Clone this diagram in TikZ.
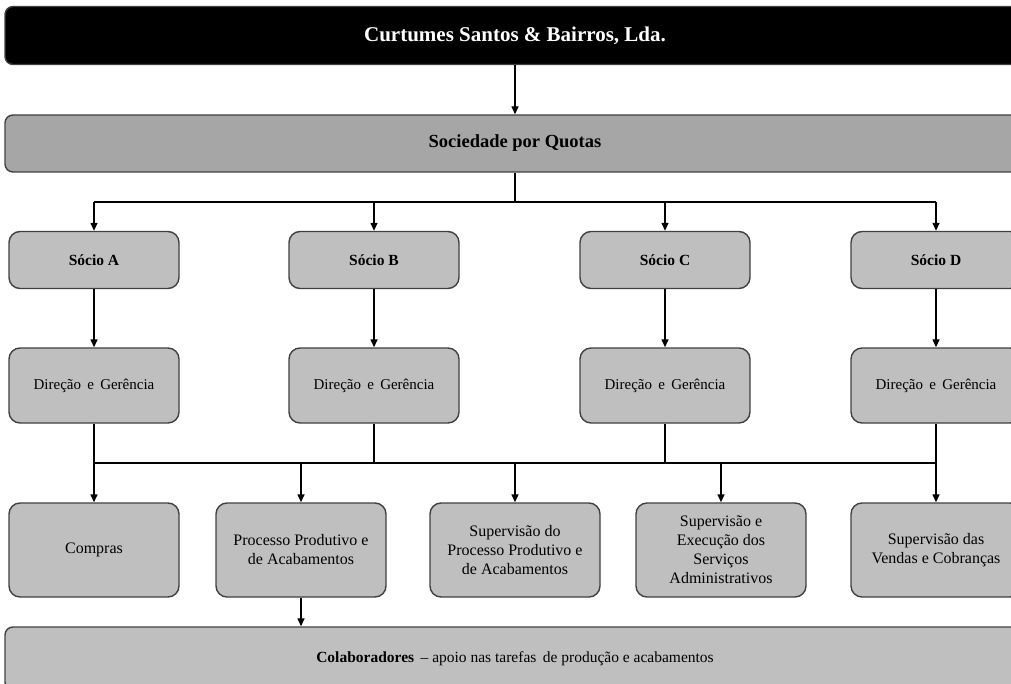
\documentclass[tikz,border=0pt]{standalone}
\usepackage{fontspec}
\setmainfont{Liberation Serif}
\usetikzlibrary{arrows.meta}

\definecolor{boxgray}{RGB}{191,191,191}
\definecolor{quotagray}{RGB}{166,166,166}
\definecolor{edgegray}{RGB}{64,64,64}

\tikzset{every picture/.style={line width=1.4pt}}
\tikzset{
  orgbox/.style={draw=edgegray, fill=boxgray, rounded corners=11pt, align=center,
    minimum width=170pt, inner sep=2pt, font=\fontsize{16}{19}\selectfont},
  wide/.style={draw=edgegray, rounded corners=8pt, minimum width=1020pt, align=center},
  arr/.style={-{Triangle[length=8pt,width=7pt]}, black}
}

\begin{document}
\begin{tikzpicture}[x=1pt,y=1pt,yscale=-1,xscale=1]
		\useasboundingbox (0,0) rectangle (1011,684);
		\clip (0,0) rectangle (1011,684);

		% Text Node
		\node [wide, fill=black, text=white, minimum height=58pt, font=\fontsize{21}{24}\selectfont\bfseries] (firma) at (515,35.5) {Curtumes Santos \& Bairros, Lda.};
		% Text Node
		\node [wide, fill=quotagray, minimum height=57pt, font=\fontsize{18.5}{22}\selectfont\bfseries] (quotas) at (515,143.5) {Sociedade por Quotas};

		% Text Node
		\node [orgbox, minimum height=57pt, font=\fontsize{15.5}{19}\selectfont\bfseries] (socioA) at (94,260) {Sócio A};
		\node [orgbox, minimum height=57pt, font=\fontsize{15.5}{19}\selectfont\bfseries] (socioB) at (374,260) {Sócio B};
		\node [orgbox, minimum height=57pt, font=\fontsize{15.5}{19}\selectfont\bfseries] (socioC) at (665,260) {Sócio C};
		\node [orgbox, minimum height=57pt, font=\fontsize{15.5}{19}\selectfont\bfseries] (socioD) at (936,260) {Sócio D};

		% Text Node
		\node [orgbox, minimum height=75pt, font=\fontsize{15}{19}\selectfont] (direcaoA) at (94,385.5) {Direção\, e\, Gerência};
		\node [orgbox, minimum height=75pt, font=\fontsize{15}{19}\selectfont] (direcaoB) at (374,385.5) {Direção\, e\, Gerência};
		\node [orgbox, minimum height=75pt, font=\fontsize{15}{19}\selectfont] (direcaoC) at (665,385.5) {Direção\, e\, Gerência};
		\node [orgbox, minimum height=75pt, font=\fontsize{15}{19}\selectfont] (direcaoD) at (936,385.5) {Direção\, e\, Gerência};

		% Text Node
		\node [orgbox, minimum height=94pt] (compras) at (94,550) {Compras};
		\node [orgbox, minimum height=94pt] (processo) at (301,550) {Processo Produtivo e\\de Acabamentos};
		\node [orgbox, minimum height=94pt] (supProcesso) at (515,550) {Supervisão do\\Processo Produtivo e\\de Acabamentos};
		\node [orgbox, minimum height=94pt] (supServicos) at (721,550) {Supervisão e\\Execução dos\\Serviços\\Administrativos};
		\node [orgbox, minimum height=94pt] (supVendas) at (936,550) {Supervisão das\\Vendas e Cobranças};

		% Text Node
		\node [wide, fill=boxgray, minimum height=63pt, font=\fontsize{15.5}{18}\selectfont] (colab) at (515,658.5) {\textbf{Colaboradores}\, -- apoio nas tarefas\, de produção e acabamentos};

		\coordinate (busTop) at (0,202);
		\coordinate (busLow) at (0,463);

		%Straight Lines
		\draw [arr] (firma) -- (quotas);
		\draw (quotas.south) -- (quotas.south |- busTop);
		\draw (socioA.north |- busTop) -- (socioD.north |- busTop);
		\foreach \s in {socioA,socioB,socioC,socioD}
		  \draw [arr] (\s.north |- busTop) -- (\s.north);

		%Straight Lines
		\draw [arr] (socioA) -- (direcaoA);
		\draw [arr] (socioB) -- (direcaoB);
		\draw [arr] (socioC) -- (direcaoC);
		\draw [arr] (socioD) -- (direcaoD);

		%Straight Lines
		\foreach \d in {direcaoA,direcaoB,direcaoC,direcaoD}
		  \draw (\d.south) -- (\d.south |- busLow);
		\draw (direcaoA.south |- busLow) -- (direcaoD.south |- busLow);
		\foreach \b in {compras,processo,supProcesso,supServicos,supVendas}
		  \draw [arr] (\b.north |- busLow) -- (\b.north);

		%Straight Lines
		\draw [arr] (processo) -- (processo.south |- colab.north);

\end{tikzpicture}
\end{document}
